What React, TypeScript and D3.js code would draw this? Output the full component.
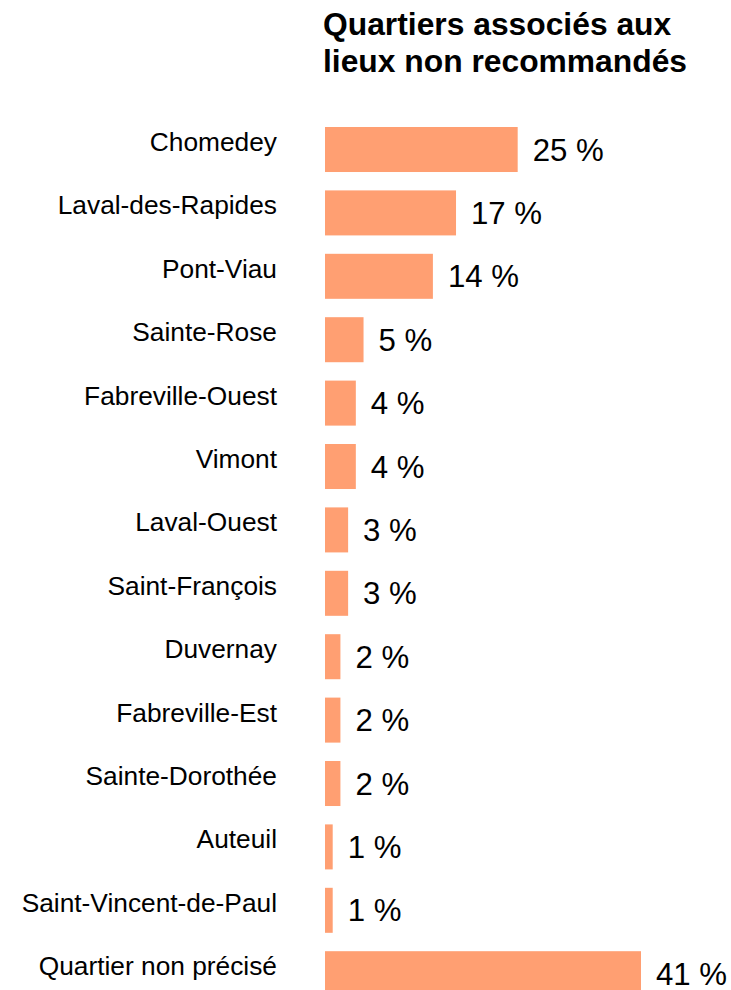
import React from "react";
import * as d3 from "d3";

const categories = [
  "Chomedey",
  "Laval-des-Rapides",
  "Pont-Viau",
  "Sainte-Rose",
  "Fabreville-Ouest",
  "Vimont",
  "Laval-Ouest",
  "Saint-François",
  "Duvernay",
  "Fabreville-Est",
  "Sainte-Dorothée",
  "Auteuil",
  "Saint-Vincent-de-Paul",
  "Quartier non précisé",
];
const values = [25, 17, 14, 5, 4, 4, 3, 3, 2, 2, 2, 1, 1, 41];
const titleLines = ["Quartiers associés aux", "lieux non recommandés"];

const W = 731;
const H = 990;
const FONT = "'Liberation Sans', Arial, Helvetica, sans-serif";

export default function App() {
  const x = d3.scaleLinear().domain([0, 41]).range([325, 641]);
  const step = 63.4;
  const pad = 0.29;
  const y = d3
    .scaleBand<string>()
    .domain(categories)
    .range([127, 127 + step * (categories.length - pad)])
    .paddingInner(pad)
    .paddingOuter(0);
  const bw = y.bandwidth();

  return (
    <svg
      width={W}
      height={H}
      style={{ position: "absolute", left: 0, top: 0, background: "#fff" }}
      fontFamily={FONT}
    >
      {titleLines.map((t, i) => (
        <text
          key={t}
          x={323}
          y={35 + i * 37}
          fontSize={31.8}
          fontWeight="bold"
          fill="#000"
        >
          {t}
        </text>
      ))}
      {categories.map((c, i) => {
        const y0 = y(c) as number;
        const cy = y0 + bw / 2;
        return (
          <g key={c}>
            <rect
              x={x(0)}
              y={y0}
              width={x(values[i]) - x(0)}
              height={bw}
              fill="#ff9f72"
            />
            <text
              x={277}
              y={cy + 1.5}
              textAnchor="end"
              fontSize={26.3}
              fill="#000"
            >
              {c}
            </text>
            <text
              x={x(values[i]) + 15}
              y={cy + 11}
              fontSize={31.2}
              fill="#000"
            >
              {`${values[i]} %`}
            </text>
          </g>
        );
      })}
    </svg>
  );
}
